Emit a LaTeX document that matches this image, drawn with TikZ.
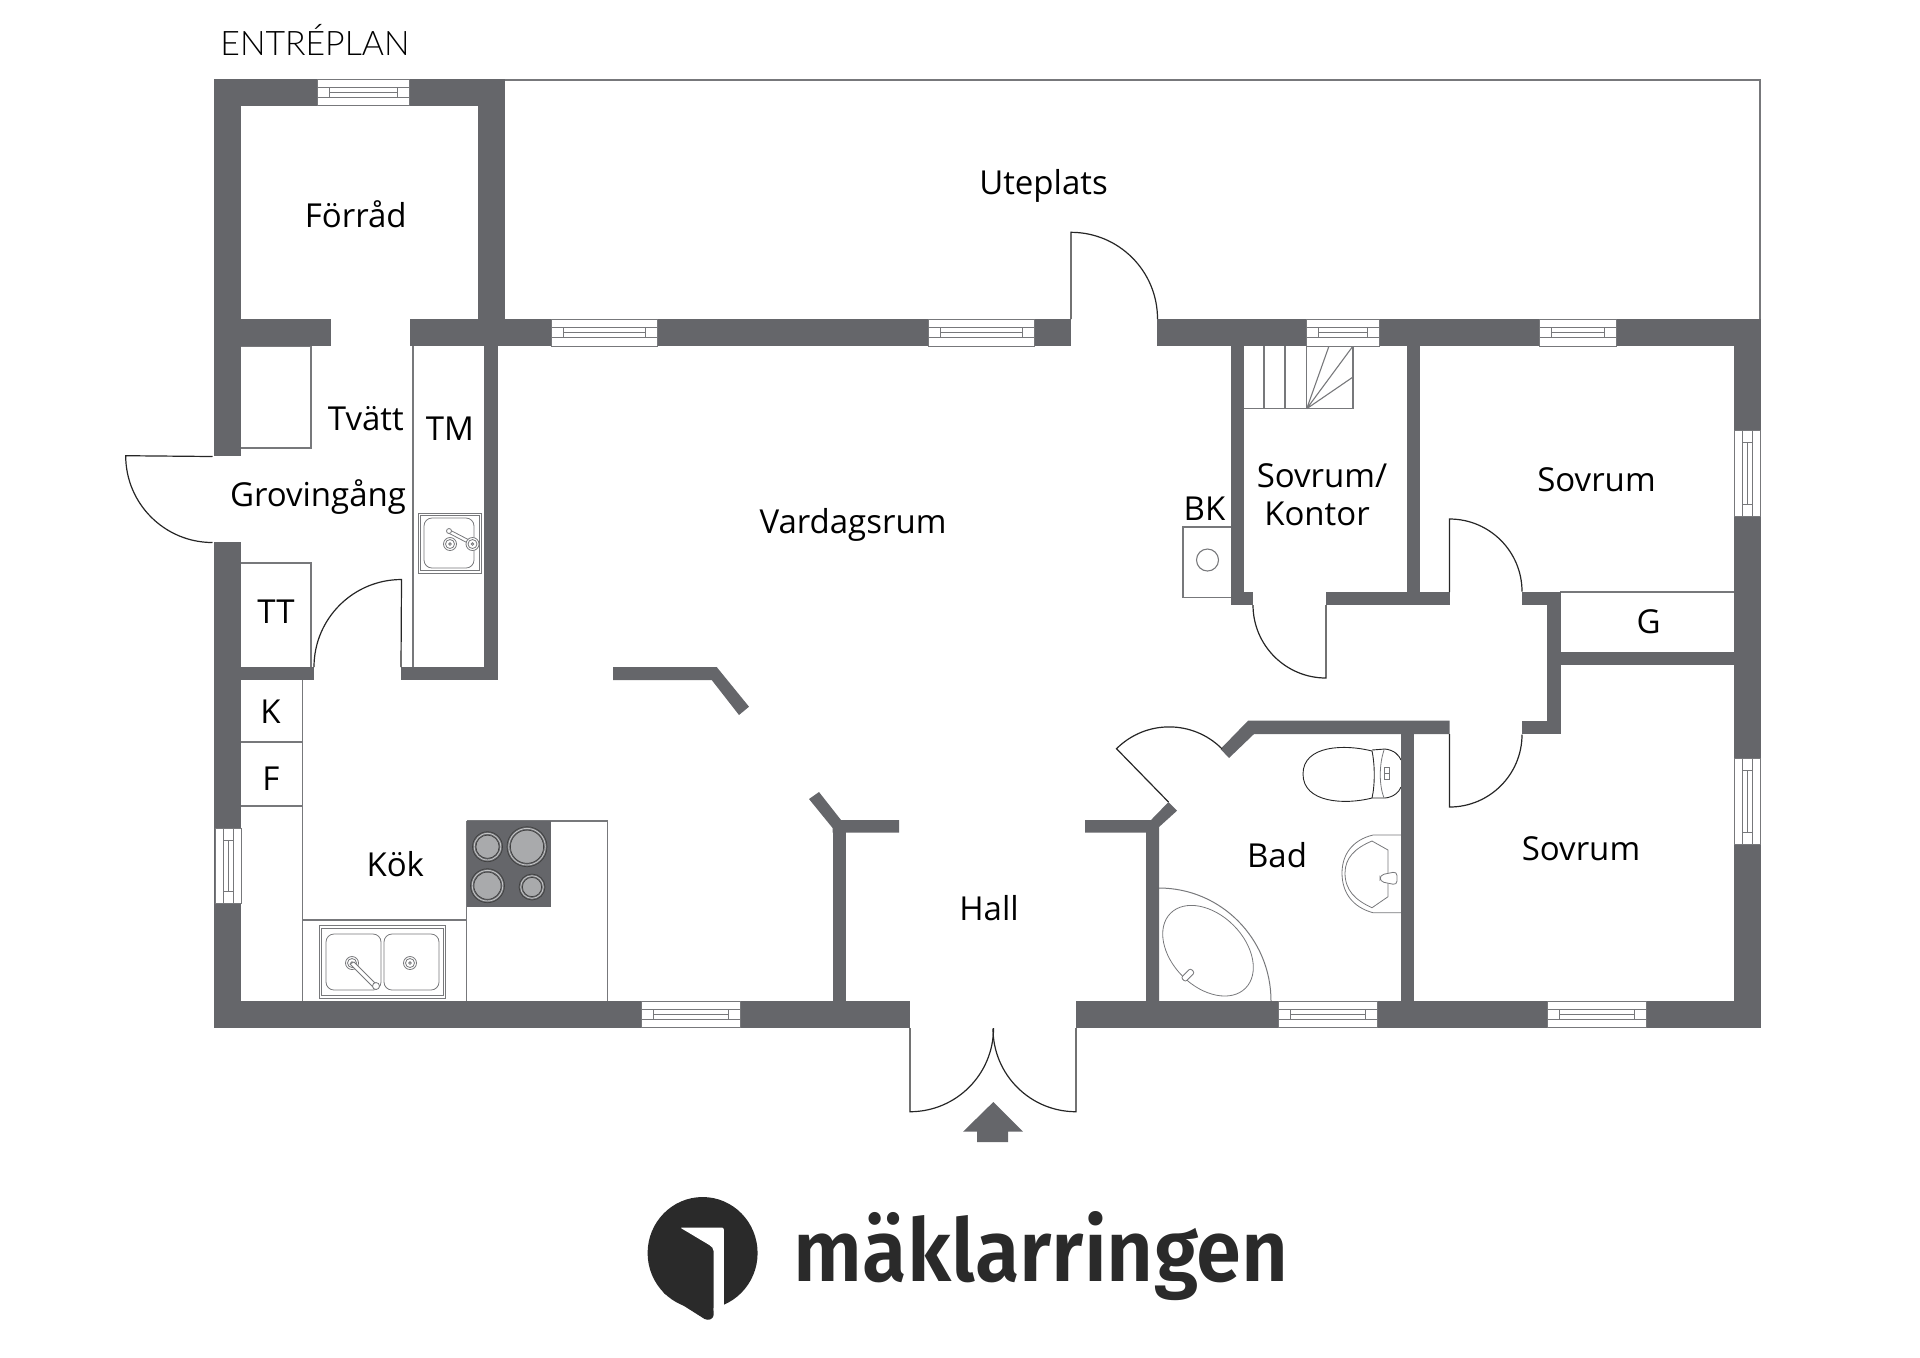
\documentclass[tikz,border=0pt]{standalone}
\usepackage{fontspec}
\setmainfont{Open Sans}
\newfontfamily\lightfont[UprightFont=* Light]{Lato}
\newfontfamily\logofont{Fira Sans}[UprightFont=* SemiBold]
\definecolor{wallc}{HTML}{65666A}
\definecolor{linec}{HTML}{77787B}
\definecolor{burner}{HTML}{A9AAAC}
\definecolor{logoc}{HTML}{2A2A2A}
\tikzset{
  wall/.style={fill=wallc,draw=none},
  fix/.style={draw=linec,line width=0.55pt},
  fine/.style={draw=linec,line width=0.4pt},
  door/.style={draw=black!85,line width=0.6pt},
  label/.style={anchor=base,inner sep=0pt,outer sep=0pt,yshift=-0.6pt,font=\fontsize{16.5}{20}\selectfont,text=black}
}
\newcommand{\wallr}[4]{\fill[wall] (#1,#2) rectangle (#3,#4);}
\newcommand{\hwin}[3]{%
  \fill[white] (#1,#3) rectangle (#2,{#3+26.5});
  \draw[fine] (#1,#3) rectangle (#2,{#3+26.5});
  \draw[fine] (#1,{#3+8}) -- (#2,{#3+8}) (#1,{#3+18}) -- (#2,{#3+18});
  \draw[fine] ({#1+12},{#3+8}) -- ({#1+12},{#3+18}) ({#2-12},{#3+8}) -- ({#2-12},{#3+18}) ({#1+12},{#3+13}) -- ({#2-12},{#3+13});}
\newcommand{\vwin}[3]{%
  \fill[white] (#3,#1) rectangle ({#3+26},#2);
  \draw[fine] (#3,#1) rectangle ({#3+26},#2);
  \draw[fine] ({#3+8},#1) -- ({#3+8},#2) ({#3+18},#1) -- ({#3+18},#2);
  \draw[fine] ({#3+8},{#1+12}) -- ({#3+18},{#1+12}) ({#3+8},{#2-12}) -- ({#3+18},{#2-12}) ({#3+13},{#1+12}) -- ({#3+13},{#2-12});}
\newcommand{\burn}[3]{%
  \draw[black!75,line width=0.35pt] (#1,#2) circle [radius=#3];
  \draw[burner!70!white,line width=0.45pt] (#1,#2) circle [radius={#3-1.7}];
  \fill[burner,draw=black!75,line width=0.35pt] (#1,#2) circle [radius={#3-3.4}];}
\newcommand{\drainm}[2]{%
  \draw[fine,fill=white] (#1,#2) circle [radius=6.5];
  \draw[fine] (#1,#2) circle [radius=4.5];
  \draw[fine] (#1,#2) circle [radius=1.3];}
\begin{document}
\begin{tikzpicture}[x=0.5pt,y=-0.5pt]
\useasboundingbox (0,0) rectangle (1920,1357);
% outdoor terrace
\draw[fine,line width=0.55pt] (505,80) -- (1760,80) -- (1760,319);
% fixtures
\draw[fix] (241,346) -- (311,346) -- (311,448) -- (241,448);
\draw[fix] (241,563) -- (311,563) -- (311,667);
\draw[fix] (413,346) -- (413,667);
\draw[fix] (241,742) -- (302.5,742) (241,806) -- (302.5,806) (302.5,680) -- (302.5,1001);
\draw[fix] (302.5,920) -- (466.5,920) (466.5,821) -- (466.5,1001) (466.5,821) -- (607.6,821) -- (607.6,1001);
\fill[wallc] (466.5,821) rectangle (551,906.7);
\burn{487.5}{846.7}{15}
\burn{527}{846.7}{20}
\burn{487.5}{885.7}{17}
\burn{532}{887}{13}
% TM sink
\draw[fine] (418,513) rectangle (481.4,573);
\draw[fine] (420.5,515.5) rectangle (479,570.5);
\draw[fine,rounded corners=4pt] (424,518) rectangle (474,568);
\drainm{450}{544}
\draw[fine,fill=white] (449,529.5) -- (473,542) -- (471.5,545) -- (447.5,532.5) -- cycle;
\draw[fine,fill=white] (449,531) circle [radius=2.5];
\drainm{472.5}{544}
% kitchen sink
\draw[fine] (319.6,925.7) rectangle (445.5,998);
\draw[fine] (321.5,928) rectangle (443.5,995.5);
\draw[fine,rounded corners=4pt] (326,934) rectangle (381,990);
\draw[fine,rounded corners=4pt] (384,934) rectangle (439,990);
\drainm{352}{963}
\drainm{410}{963}
\draw[fine,fill=white] (350,964) -- (354,962) -- (377,985) -- (374,988) -- cycle;
\draw[fine,fill=white] (376,986) circle [radius=3.5];
% BK
\draw[fix] (1231,527) -- (1183,527) -- (1183,597.7) -- (1231,597.7);
\draw[fix] (1207.5,560) circle [radius=11];
% stairs
\draw[fix] (1244,408.7) -- (1353,408.7) -- (1353,346);
\draw[fix] (1264,346) -- (1264,408.7) (1285,346) -- (1285,408.7) (1306.7,346) -- (1306.7,408.7);
\draw[fix] (1306.7,408.7) -- (1329,346) (1306.7,408.7) -- (1353,346) (1306.7,408.7) -- (1353,377);
% G
\draw[fix] (1560,592) -- (1734,592);
% toilet
\draw[door,line width=0.45pt] (1372,751) .. controls (1345,744) and (1303,745) .. (1303,774) .. controls (1303,803) and (1345,805) .. (1372,798);
\draw[door,line width=0.45pt] (1372,751) .. controls (1375,765) and (1375,785) .. (1372,798);
\draw[door,line width=0.45pt] (1372,750) -- (1385,749) .. controls (1394,750) and (1399,755) .. (1401,760);
\draw[door,line width=0.45pt] (1372,798) -- (1385,798) .. controls (1394,797) and (1399,792) .. (1401,787);
\draw[fine] (1384,750) .. controls (1379,765) and (1379,785) .. (1384,798);
\draw[fine] (1384.5,767.5) rectangle (1389.5,779);
\draw[fine] (1384.5,773) -- (1389.5,773);
% basin
\draw[fine] (1401,835) -- (1373,835) .. controls (1352,840) and (1342,855) .. (1342,873) .. controls (1342,892) and (1352,907) .. (1373,912.7) -- (1401,912.7);
\draw[fine] (1372,841) -- (1388,850) -- (1388,896.7) -- (1372,907.7) .. controls (1355,900) and (1345,890) .. (1345,873) .. controls (1345,858) and (1355,848) .. (1372,841) -- cycle;
\draw[fine,fill=white,rounded corners=2pt] (1380,875) -- (1397,871.5) -- (1397,885) -- (1380,881.5) -- cycle;
% bath
\draw[fine,line width=0.5pt] (1159,888) arc [start angle=-90,end angle=0,x radius=112,y radius=113];
\begin{scope}[shift={(1208,950.7)},rotate=-45]
\draw[fine] (0,0) ellipse [x radius=53,y radius=36];
\draw[fine,fill=white,rounded corners=1pt] (0,25) rectangle (6,38);
\end{scope}
% walls
\wallr{214}{79}{505}{105.7}
\wallr{214}{79}{241}{456}
\wallr{214}{542}{241}{1028}
\wallr{478}{79}{505}{346}
\wallr{214}{319}{331}{346}
\wallr{410}{319}{1071}{346}
\wallr{1157}{319}{1760.5}{346}
\wallr{1734}{319}{1760.5}{1028}
\wallr{214}{1001}{910}{1028}
\wallr{1076}{1001}{1760.5}{1028}
\wallr{484}{346}{497.5}{680}
\wallr{241}{667}{314}{680}
\wallr{401}{667}{497.5}{680}
\fill[wall] (613,667) -- (716.7,667) -- (749,706.7) -- (739,715) -- (711.7,680) -- (613,680) -- cycle;
\wallr{832.6}{828}{845.5}{1001}
\fill[wall] (899,820) -- (841,820) -- (819,792) -- (809,799) -- (832.6,828) -- (832.6,832.7) -- (899,832.7) -- cycle;
\fill[wall] (1085,820) -- (1151,820) -- (1168.5,802) -- (1177,810.7) -- (1159,827) -- (1159,1001) -- (1146,1001) -- (1146,832.7) -- (1085,832.7) -- cycle;
\fill[wall] (1449.5,720.7) -- (1248,720.7) -- (1220.5,749) -- (1229,758) -- (1254,734) -- (1449.5,734) -- cycle;
\wallr{1401}{734}{1414}{1001}
\wallr{1522}{720.7}{1560.5}{734}
\wallr{1547}{592}{1560.5}{734}
\wallr{1522}{592}{1560.5}{605}
\wallr{1231}{346}{1244}{605}
\wallr{1231}{592}{1253}{605}
\wallr{1326}{592}{1449.5}{605}
\wallr{1406.6}{346}{1419.6}{592}
\wallr{1560}{651.7}{1734}{665}
% windows
\hwin{317}{409}{79}
\hwin{551}{657}{319.5}
\hwin{928.6}{1034.6}{319.5}
\hwin{1306}{1379}{319.5}
\hwin{1539}{1616.5}{319.5}
\hwin{641}{740.6}{1001}
\hwin{1278}{1377.5}{1001}
\hwin{1547}{1646}{1001}
\vwin{828}{903}{215}
\vwin{430.7}{516.7}{1734.5}
\vwin{758}{844}{1734.5}
% doors
\draw[door] (212.5,542.5) arc [start angle=90,end angle=180,radius=86.8] -- (212.5,456.5);
\draw[door] (314,667) arc [start angle=180,end angle=270,radius=87.5] -- (401,667);
\draw[door] (1071,319) -- (1071,232.3) arc [start angle=-90,end angle=0,radius=86.5];
\draw[door] (1253,605) arc [start angle=180,end angle=90,radius=73] -- (1326,605);
\draw[door] (1449.5,592) -- (1449.5,519) arc [start angle=-90,end angle=0,radius=72.5];
\draw[door] (1449.5,734) -- (1449.5,807) arc [start angle=90,end angle=0,radius=72.5];
\draw[door] (1168.5,802) -- (1116.5,748.7) arc [start angle=225,end angle=315,radius=74.5];
\draw[door] (910,1028) -- (910,1111.7) arc [start angle=90,end angle=0,radius=83.5];
\draw[door] (1076,1028) -- (1076,1111.7) arc [start angle=90,end angle=180,radius=83];
% entrance arrow
\fill[wall] (993.3,1102) -- (1023,1131.7) -- (1008,1131.7) -- (1008,1142) -- (977,1142) -- (977,1131.7) -- (963,1131.7) -- cycle;
% labels
\node[anchor=base west,inner sep=0pt,font=\lightfont\fontsize{16.9}{20}\selectfont,text=black] (title) at (220,55) {ENTRÉPLAN};
\node[label] (n1) at (355.8,226) {Förråd};
\node[label] (n2) at (1043.5,193) {Uteplats};
\node[label] (n3) at (365.8,428.8) {Tvätt};
\node[label] (n4) at (450,439) {TM};
\node[label] (n5) at (318,505.7) {Grovingång};
\node[label] (n6) at (276,622) {TT};
\node[label] (n7) at (270.5,722.7) {K};
\node[label] (n8) at (271,789) {F};
\node[label] (n9) at (395.3,875.7) {Kök};
\node[label] (n10) at (853,532) {Vardagsrum};
\node[label] (n11) at (1204.5,518.8) {BK};
\node[label] (n12) at (1322,486.3) {Sovrum/};
\node[label] (n13) at (1317,524) {Kontor};
\node[label] (n14) at (1596.5,490.7) {Sovrum};
\node[label] (n15) at (1648.6,632.7) {G};
\node[label] (n16) at (1581,859.3) {Sovrum};
\node[label] (n17) at (1277,866.7) {Bad};
\node[label] (n18) at (989,919) {Hall};
% logo
\fill[logoc] (702.6,1253) ellipse [x radius=55,y radius=56];
\fill[logoc,rounded corners=1.5pt] (662,1292) -- (707,1320.5) -- (713.6,1318) -- (713.6,1280) -- (680,1270) -- cycle;
\fill[white,rounded corners=1pt] (680,1227.5) -- (723.8,1227.5) -- (723.8,1312) -- (713.6,1312) -- (713.6,1249) -- (711,1246) -- cycle;
\node[anchor=base west,inner sep=0pt,text=logoc] (logo) at (793.5,1281.7) {\scalebox{0.932}[1.0]{\logofont\fontsize{43.6}{50}\selectfont mäklarringen}};
\end{tikzpicture}
\end{document}
